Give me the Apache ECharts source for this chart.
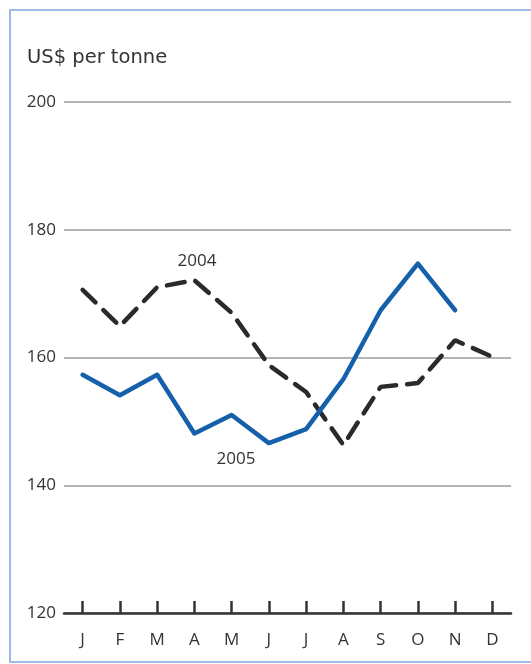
<!DOCTYPE html>
<html>
<head>
<meta charset="utf-8">
<script src="https://cdn.jsdelivr.net/npm/echarts@6/dist/echarts.min.js"></script>
<style>html,body{margin:0;padding:0;background:#fff;}#c{width:531px;height:664px;}</style>
</head>
<body>
<div id="c"></div>
<script>
var months = ['J','F','M','A','M','J','J','A','S','O','N','D'];
var yTicks = [120, 140, 160, 180, 200];
var y2004 = [170.6, 164.9, 171.0, 172.1, 167.0, 158.8, 154.6, 146.3, 155.4, 156.0, 162.7, 160.1];
var y2005 = [157.3, 154.1, 157.3, 148.1, 151.0, 146.6, 148.8, 156.6, 167.4, 174.7, 167.4, null];
var unitLabel = 'US$ per tonne';
var seriesNames = ['2004', '2005'];

var FONT = '"Open Sans", sans-serif';
var chart = echarts.init(document.getElementById('c'), null, {renderer: 'canvas'});
chart.setOption({
  animation: false,
  backgroundColor: '#fff',
  grid: {left: 64, right: 20, top: 102, bottom: 51, containLabel: false},
  xAxis: {
    type: 'category',
    data: months,
    boundaryGap: true,
    axisLine: {show: true, lineStyle: {color: '#333', width: 2.5}},
    axisTick: {show: true, inside: true, alignWithLabel: true, length: 12, lineStyle: {color: '#333', width: 2.5}},
    axisLabel: {color: '#333', fontSize: 17, fontFamily: FONT, margin: 19},
    splitLine: {show: false},
    z: 5
  },
  yAxis: {
    type: 'value',
    min: yTicks[0],
    max: yTicks[yTicks.length - 1],
    interval: 20,
    axisLine: {show: false},
    axisTick: {show: false},
    axisLabel: {color: '#333', fontSize: 17, fontFamily: FONT, margin: 8},
    splitLine: {show: true, lineStyle: {color: '#b4b4b4', width: 2}}
  },
  series: [
    {
      name: seriesNames[0],
      type: 'line',
      data: y2004,
      symbol: 'none',
      lineStyle: {color: '#2a2a2a', width: 4.5, type: [18, 11], cap: 'round'},
      z: 3
    },
    {
      name: seriesNames[1],
      type: 'line',
      data: y2005,
      symbol: 'none',
      connectNulls: false,
      lineStyle: {color: '#1560ab', width: 4.5, cap: 'round', join: 'round'},
      z: 4
    }
  ],
  graphic: [
    {type: 'rect', shape: {x: 10, y: 10, width: 580, height: 652}, style: {fill: 'none', stroke: '#9dbbe3', lineWidth: 2}, silent: true},
    {type: 'text', left: 27, top: 48, style: {text: unitLabel, fill: '#333', font: '19.5px "DejaVu Sans", sans-serif'}},
    {type: 'text', x: 197, y: 261, style: {text: seriesNames[0], fill: '#333', font: '17px ' + FONT, align: 'center', verticalAlign: 'middle'}},
    {type: 'text', x: 236, y: 459, style: {text: seriesNames[1], fill: '#333', font: '17px ' + FONT, align: 'center', verticalAlign: 'middle'}}
  ]
});
</script>
</body>
</html>
